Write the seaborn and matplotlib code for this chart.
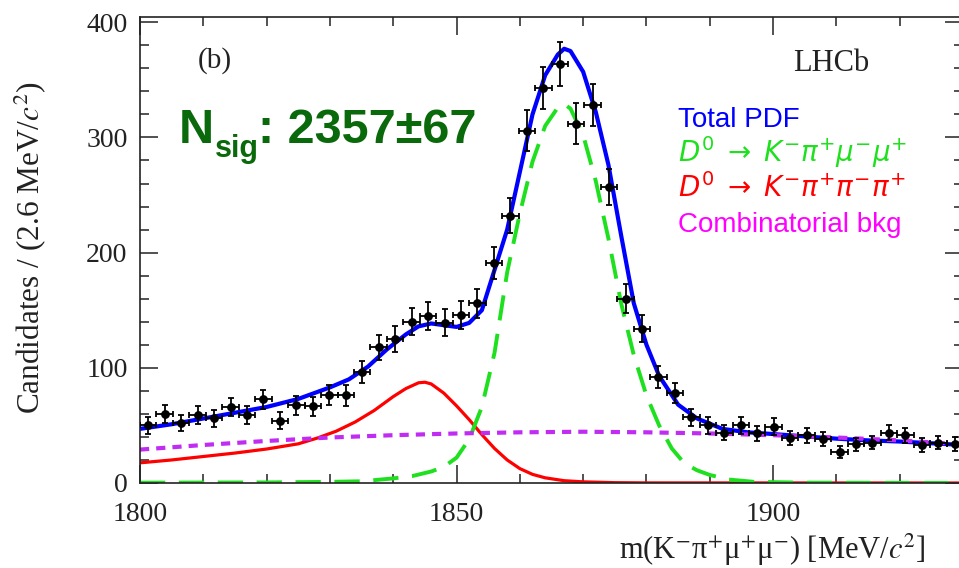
import numpy as np
import pandas as pd
import matplotlib
matplotlib.use("Agg")
import matplotlib.pyplot as plt
import seaborn as sns

# ---------------- data ----------------
bin_width = 2.6
bin_centers = [1801.3, 1803.9, 1806.5, 1809.1, 1811.7, 1814.3, 1816.9, 1819.5, 1822.1, 1824.7,
               1827.3, 1829.9, 1832.5, 1835.1, 1837.7, 1840.3, 1842.9, 1845.5, 1848.1, 1850.7,
               1853.3, 1855.9, 1858.5, 1861.1, 1863.7, 1866.3, 1868.9, 1871.5, 1874.1, 1876.7,
               1879.3, 1881.9, 1884.5, 1887.1, 1889.7, 1892.3, 1894.9, 1897.5, 1900.1, 1902.7,
               1905.3, 1907.9, 1910.5, 1913.1, 1915.7, 1918.3, 1920.9, 1923.5, 1926.1, 1928.7]
counts = [50, 60, 52, 59, 56, 66, 59, 72.5, 54, 67.5,
          66.5, 76.5, 76, 96.5, 118, 125, 140, 145, 139, 146,
          156, 191, 232, 306, 343, 364, 312, 328, 257, 160,
          134, 92, 78, 57, 50, 43.5, 50, 43, 49, 39,
          41.5, 38.5, 27, 33.5, 35, 43.5, 41.5, 33, 35, 34]

total_x = [1800, 1805, 1810, 1815, 1820, 1825, 1830, 1833, 1836, 1839, 1842, 1844, 1846, 1848,
           1850, 1852, 1854, 1856, 1858, 1860, 1862, 1864, 1866, 1867, 1868, 1870, 1872, 1874,
           1876, 1878, 1880, 1882, 1885, 1888, 1892, 1896, 1900, 1905, 1910, 1915, 1920, 1925, 1930]
total_y = [47, 51, 56, 61, 66, 73, 83, 90, 101, 116, 129, 136, 138.5, 137,
           135.5, 139, 150, 185, 220, 270, 320, 354, 372, 377, 375, 357, 322, 276,
           215, 156, 120, 93, 68, 56, 47, 44, 42.5, 40.5, 38.5, 37, 36, 34.5, 33]

sig_x = [1800, 1820, 1830, 1835, 1840, 1843, 1846, 1848, 1850, 1852, 1854, 1856, 1858, 1860,
         1862, 1864, 1866, 1867, 1868, 1870, 1872, 1874, 1876, 1878, 1880, 1882, 1884, 1886,
         1888, 1890, 1893, 1897, 1905, 1930]
sig_y = [0.3, 0.5, 1, 1.5, 4, 6, 10, 14, 22, 38, 66, 113, 183, 234,
         279, 310, 326, 329, 325, 302, 262, 212, 156, 111, 76, 50, 30, 17,
         11, 7, 3, 1, 0.3, 0]

misid_x = [1800, 1805, 1810, 1815, 1820, 1825, 1828, 1831, 1834, 1837, 1840, 1842, 1844, 1845,
           1846, 1848, 1850, 1852, 1854, 1856, 1858, 1860, 1862, 1864, 1867, 1870, 1875, 1880, 1930]
misid_y = [17.5, 20, 23, 26, 29.5, 34, 39, 45, 53, 63, 75, 82, 87, 87.5,
           86, 78, 67, 55, 42, 30, 20, 12.5, 7.5, 4.5, 2, 1, 0.3, 0.1, 0]

comb_x = [1800, 1810, 1820, 1830, 1840, 1850, 1860, 1870, 1880, 1890, 1900, 1910, 1920, 1930]
comb_y = [29, 33, 36.5, 39.5, 41.5, 43, 44, 44.5, 44, 43, 41.5, 39.5, 37, 33.5]

x_ticks = [1800, 1850, 1900]
y_ticks = [0, 100, 200, 300, 400]
legend_labels = ["Total PDF",
                 r"$D^0 \;\rightarrow\; K^{-}\pi^{+}\mu^{-}\mu^{+}$",
                 r"$D^0 \;\rightarrow\; K^{-}\pi^{+}\pi^{-}\pi^{+}$",
                 "Combinatorial bkg"]
nsig_text = ("N", "sig", ": 2357\u00b167")

# ---------------- style ----------------
sns.set_theme(style="ticks")
plt.rcParams["font.family"] = ["Liberation Serif", "DejaVu Serif"]
plt.rcParams["axes.edgecolor"] = "#222222"
plt.rcParams["axes.linewidth"] = 1.2

C_TOTAL = "#0000ff"
C_SIG = "#1fe01f"
C_MIS = "#ff0000"
C_COMB = "#c02cf2"
C_NSIG = "#0a690a"

fig = plt.figure(figsize=(9.59, 5.68), dpi=100)
ax = fig.add_axes([140 / 959, 85 / 568, 823 / 959, 466.5 / 568])

df_tot = pd.DataFrame({"m": total_x, "n": total_y})
df_sig = pd.DataFrame({"m": sig_x, "n": sig_y})
df_mis = pd.DataFrame({"m": misid_x, "n": misid_y})
df_comb = pd.DataFrame({"m": comb_x, "n": comb_y})
df_data = pd.DataFrame({"m": bin_centers, "n": counts})

sns.lineplot(data=df_tot, x="m", y="n", ax=ax, color=C_TOTAL, lw=3.0, estimator=None, zorder=2)
sns.lineplot(data=df_mis, x="m", y="n", ax=ax, color=C_MIS, lw=2.3, estimator=None, zorder=2.2)
sns.lineplot(data=df_sig, x="m", y="n", ax=ax, color=C_SIG, lw=2.8, estimator=None, zorder=2.3,
             linestyle=(0, (6.5, 3.5)))
sns.lineplot(data=df_comb, x="m", y="n", ax=ax, color=C_COMB, lw=3.0, estimator=None, zorder=2.4,
             linestyle=(0, (2.2, 1.7)))

ax.errorbar(df_data["m"], df_data["n"], yerr=np.sqrt(df_data["n"]), xerr=bin_width / 2,
            fmt="none", ecolor="black", elinewidth=1.3, capsize=2.5, capthick=1.3, zorder=5)
sns.scatterplot(data=df_data, x="m", y="n", ax=ax, color="black", s=40, edgecolor="black",
                linewidth=0, zorder=6)

ax.set_xlim(1800, 1930)
ax.set_ylim(0, 405)
ax.set_xticks(x_ticks)
ax.set_yticks(y_ticks)
ax.set_xticks(np.arange(1810, 1930, 10), minor=True)
ax.set_yticks(np.arange(20, 405, 20), minor=True)
ax.tick_params(which="both", direction="in", top=True, right=True, colors="#222222",
               labelsize=20, width=1.1)
ax.tick_params(which="major", length=13)
ax.tick_params(which="minor", length=6.5)
ax.tick_params(axis="x", pad=14)
ax.tick_params(axis="y", pad=9)
for lab in ax.get_xticklabels() + ax.get_yticklabels():
    lab.set_color("#222222")

ax.set_xlabel("m(K$^{-}$\u03c0$^{+}$\u03bc$^{+}$\u03bc$^{-}$) [MeV/$c^{2}$]", fontsize=22,
              color="#222222", ha="right", va="center", math_fontfamily="stix")
ax.xaxis.set_label_coords(0.954, -0.144)
ax.set_ylabel(r"Candidates / (2.6 MeV/$c^{2}$)", fontsize=22.5, color="#222222",
              va="center", math_fontfamily="stix")
ax.yaxis.set_label_coords(-0.134, 0.505)

# annotations
ax.text(0.091, 0.905, "(b)", transform=ax.transAxes, fontsize=21, ha="center", va="center",
        color="#222222")
ax.text(0.84, 0.9, "LHCb", transform=ax.transAxes, fontsize=22, ha="center", va="center",
        color="#222222")

nfam = ["Liberation Sans", "DejaVu Sans"]
ax.text(0.0474, 0.728, nsig_text[0], transform=ax.transAxes, fontsize=35, weight="bold",
        family=nfam, color=C_NSIG, va="baseline")
ax.text(0.0915, 0.698, nsig_text[1], transform=ax.transAxes, fontsize=22, weight="bold",
        family=nfam, color=C_NSIG, va="baseline")
ax.text(0.143, 0.728, nsig_text[2], transform=ax.transAxes, fontsize=35, weight="bold",
        family=nfam, color=C_NSIG, va="baseline")

leg_colors = [C_TOTAL, C_SIG, C_MIS, "#ff00ff"]
leg_y = [0.763, 0.688, 0.613, 0.538]
for lab, col, yy in zip(legend_labels, leg_colors, leg_y):
    ax.text(0.654, yy, lab, transform=ax.transAxes, fontsize=20, color=col, va="baseline",
            family=["Liberation Sans", "DejaVu Sans"], math_fontfamily="dejavusans")

fig.savefig("out.png", dpi=100)
